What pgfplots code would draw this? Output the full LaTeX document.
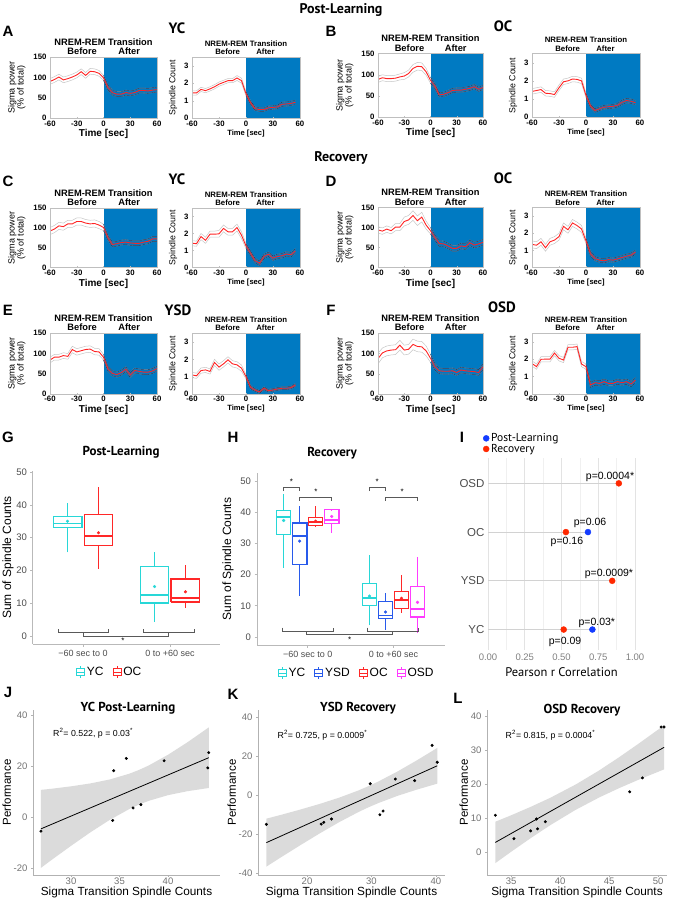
\documentclass[border=0pt]{standalone}
\usepackage{pgfplots}
\pgfplotsset{compat=1.18}
\usepackage{pgfplotstable}
\usepackage{fontspec}
\setmainfont{Liberation Sans}
\newfontfamily\hd{PT Sans}
\newcommand{\fs}[1]{\fontsize{#1}{#1}\selectfont}
\definecolor{tsblue}{RGB}{0,122,194}
\definecolor{semdark}{RGB}{20,40,80}
\definecolor{tsred}{RGB}{255,35,35}
\definecolor{gcyan}{RGB}{40,215,215}
\definecolor{gblue}{RGB}{40,90,235}
\definecolor{gred}{RGB}{255,40,40}
\definecolor{gmag}{RGB}{255,60,255}
\definecolor{dotblue}{RGB}{20,60,255}
\definecolor{dotred}{RGB}{255,40,0}

\pgfplotstableread{
t aSm aSs aPm aPs bSm bSs bPm bPs
-60 90 7 1.45 0.12 89 7 1.42 0.15
-55 95 7 1.45 0.12 93 7 1.47 0.15
-50 101 7 1.65 0.12 91 7 1.52 0.15
-45 94 7 1.58 0.12 91 7 1.32 0.15
-40 97 7 1.68 0.12 92 7 1.30 0.15
-35 101 7 1.80 0.12 95 7 1.25 0.15
-30 106 7 1.95 0.12 97 8 1.62 0.15
-25 114 7 2.05 0.12 103 8 1.95 0.15
-20 105 7 2.15 0.12 115 9 2.00 0.15
-15 115 7 2.15 0.12 120 9 2.10 0.15
-10 114 7 2.30 0.14 119 9 2.08 0.15
-5 110 7 2.15 0.14 107 8 2.00 0.15
0 99 6 1.40 0.12 87 7 1.20 0.12
5 75 6 0.90 0.10 73 6 0.62 0.10
10 63 6 0.55 0.10 53 5 0.37 0.10
15 59 6 0.50 0.10 54 5 0.47 0.10
20 59 6 0.50 0.10 58 5 0.55 0.10
25 63 6 0.60 0.10 63 5 0.58 0.10
30 61 6 0.62 0.10 64 5 0.60 0.10
35 63 6 0.65 0.10 64 5 0.66 0.10
40 68 6 0.80 0.12 66 5 0.82 0.12
45 68 6 0.82 0.12 68 5 0.92 0.12
50 67 6 0.85 0.12 72 5 0.88 0.12
55 69 6 0.92 0.12 66 5 0.80 0.12
60 70 6 0.92 0.12 70 5 0.80 0.12
}\postT

\pgfplotstableread{
t cSm cSs cPm cPs dSm dSs dPm dPs eSm eSs ePm ePs fSm fSs fPm fPs
-60 92 9 1.43 0.15 94 8 1.35 0.2 84 7 1.10 0.15 87 13 1.75 0.15
-55 97 9 1.40 0.15 91 8 1.30 0.2 91 7 1.05 0.15 101 12 1.57 0.15
-50 105 9 1.82 0.18 96 8 1.50 0.2 91 7 1.35 0.15 106 12 1.99 0.15
-45 103 9 1.60 0.18 92 8 1.15 0.2 95 7 1.39 0.15 108 12 2.00 0.15
-40 110 9 1.96 0.18 101 9 1.50 0.2 93 7 1.30 0.15 109 12 2.00 0.15
-35 110 9 1.96 0.18 101 9 1.60 0.2 110 8 1.82 0.18 120 12 2.35 0.15
-30 116 9 1.98 0.2 115 11 1.80 0.2 104 8 1.55 0.18 108 12 2.05 0.15
-25 116 9 2.30 0.2 119 11 2.40 0.2 107 8 1.74 0.18 110 12 1.95 0.15
-20 112 9 2.10 0.2 130 12 2.20 0.2 110 8 1.97 0.18 122 13 2.68 0.15
-15 110 9 2.10 0.2 117 12 2.60 0.2 111 8 1.74 0.18 117 13 2.68 0.15
-10 111 9 2.35 0.2 126 12 2.45 0.2 105 8 1.68 0.18 116 13 2.72 0.15
-5 107 9 1.90 0.2 106 10 2.25 0.2 104 8 1.49 0.18 106 12 1.72 0.15
0 101 8 1.27 0.15 92 8 1.55 0.15 91 7 1.00 0.12 88 10 1.57 0.15
5 75 6 0.84 0.13 75 7 0.80 0.15 62 6 0.39 0.1 67 8 0.52 0.15
10 58 6 0.41 0.13 60 7 0.52 0.12 51 6 0.23 0.08 57 7 0.65 0.15
15 60 6 0.25 0.13 59 7 0.43 0.12 48 6 0.12 0.08 56 7 0.61 0.15
20 63 6 0.65 0.13 54 7 0.39 0.12 53 6 0.33 0.08 56 7 0.71 0.15
25 64 6 0.78 0.13 48 7 0.46 0.12 61 6 0.19 0.08 57 7 0.61 0.15
30 62 6 0.55 0.13 48 7 0.43 0.12 47 6 0.23 0.08 53 7 0.61 0.15
35 61 6 0.65 0.13 54 7 0.50 0.12 58 6 0.29 0.08 59 7 0.71 0.15
40 61 6 0.69 0.13 52 7 0.58 0.12 56 6 0.33 0.08 57 7 0.65 0.15
45 64 6 0.80 0.13 62 7 0.66 0.12 54 6 0.33 0.08 56 7 0.71 0.15
50 66 6 0.75 0.13 56 7 0.72 0.12 54 6 0.37 0.08 55 7 0.57 0.15
55 72 6 0.98 0.13 59 7 0.90 0.12 57 6 0.52 0.08 53 7 0.80 0.15
60 72 6 0.98 0.13 63 7 0.90 0.12 63 6 0.52 0.08 67 7 0.80 0.15
}\recT

% regression fit lines
\pgfplotstableread{
x fit
26.9 -4.60
44.2 23.30
}\Jf
\pgfplotstableread{
x fit
13.7 -24.4
40.2 15.00
}\Kf
\pgfplotstableread{
x fit
33.4 2.80
50.6 30.80
}\Lf
% confidence bands (upper edge left to right, then lower edge right to left)
\pgfplotstableread{
x y
26.9 10.7
28 11.12
30 12.07
32 13.22
34 14.77
36 17.01
37 18.49
38 20.23
40 24.45
42 29.34
44.2 35.18
44.2 11.42
42 10.16
40 8.61
38 6.37
37 4.89
36 3.15
34 -1.07
32 -5.96
30 -11.27
28 -16.78
26.9 -19.9
}\Jb
\pgfplotstableread{
x y
13.7 -12.1
16 -10.12
19 -7.40
22 -4.51
25 -1.32
28 2.39
29.56 4.61
31 6.84
34 12.02
37 17.73
40.2 24.16
40.2 5.84
37 2.75
34 -0.46
31 -4.20
29.56 -6.25
28 -8.67
25 -13.88
22 -19.61
19 -25.64
16 -31.84
13.7 -36.7
}\Kb
\pgfplotstableread{
x y
33.4 8.90
35 10.78
37 13.27
39 15.94
41.59 19.86
44 24.04
46 27.86
48 31.88
50.6 37.29
50.6 24.31
48 21.26
46 18.76
44 16.06
41.59 12.40
39 7.88
37 4.05
35 0.02
33.4 -3.30
}\Lb
\pgfplotstableread{
x y
26.9 -5.5
34.3 -1.3
34.4 18.2
35.7 23.0
36.4 3.6
37.2 4.9
39.6 22.1
44.2 25.3
44.1 19.3
}\Jp
\pgfplotstableread{
x y
13.7 -15
22.2 -14.9
22.6 -14
23.8 -12.3
29.8 5.8
31.3 -10.1
31.8 -8.2
33.7 8.2
36.7 7.4
39.4 25.5
40.2 16.8
}\Kp
\pgfplotstableread{
x y
33.4 10.8
35.3 3.9
37.0 6.2
37.6 9.7
37.7 6.8
38.5 8.9
47.1 17.7
48.4 21.8
50.3 36.8
50.6 36.8
}\Lp

\tikzset{tt/.style={anchor=base, inner sep=0pt}}
\pgfplotsset{
  every axis/.append style={/pgf/number format/assume math mode=true},
  ts/.style={scale only axis, anchor=north west, axis on top, clip mode=individual,
    xmin=-60, xmax=60, xtick={-60,-30,0,30,60}, tick pos=left, tick align=inside,
    major tick length=1.5pt, axis line style={gray!50, line width=0.5pt}, tick style={gray!50},
    ticklabel style={font=\bfseries\fs{7.8}}, xticklabel style={yshift=1pt},
    xlabel={Time [sec]}, xlabel style={yshift=3.5pt}, ylabel style={align=center}},
  semg/.style={gray!45, line width=0.5pt, mark=none},
  semd/.style={semdark, line width=0.45pt, mark=none},
  tsr/.style={tsred, line width=0.9pt, mark=none},
  bxax/.style={scale only axis, anchor=north west, axis x line*=bottom, axis y line*=left,
    axis line style={gray!55, line width=1pt}, tick style={gray!55, line width=0.6pt},
    major tick length=2.5pt, tick align=outside, xtick={1,2},
    xticklabels={−60 sec to 0, 0 to +60 sec}, ytick={0,10,20,30,40,50},
    ticklabel style={text=black!70}, xticklabel style={font=\fs{9}}, yticklabel style={font=\fs{9.5}},
    ylabel style={font=\fs{12}}, clip mode=individual,
    legend columns=-1,
    legend style={draw=none, fill=none, font=\fs{12}, /tikz/every even column/.append style={column sep=7pt}},
    legend image code/.code={\draw[#1, line width=0.9pt] (0pt,-3.5pt) rectangle (8pt,3.5pt);
      \draw[#1, line width=0.9pt] (0pt,0pt) -- (8pt,0pt) (4pt,3.5pt) -- (4pt,6pt) (4pt,-3.5pt) -- (4pt,-6pt);}},
  brk/.style={black!65, line width=0.7pt, forget plot, mark=none},
  sc/.style={scale only axis, anchor=north west, axis x line*=bottom, axis y line*=left,
    axis line style={gray!60, line width=0.9pt}, tick style={gray!60}, major tick length=2pt,
    tick align=outside, ticklabel style={font=\fs{9.5}, text=black!55}, xticklabel style={yshift=3pt},
    xlabel={Sigma Transition Spindle Counts}, ylabel={Performance},
    xlabel style={font=\fs{11.8}, yshift=4pt}, ylabel style={font=\fs{11.5}}, ylabel shift=-4pt,
    clip mode=individual},
}

\newcommand{\sigpanel}[6]{%
\begin{axis}[ts, at={(#1pt,-#2pt)}, width=#3pt, height=#4pt, ymin=0, ymax=150, ytick={0,50,100,150},
  ylabel={Sigma power\\(\% of total)}, ylabel style={font=\fs{9}, yshift=1pt},
  xlabel style={font=\bfseries\fs{10}}]
\addplot[fill=tsblue, draw=none] coordinates {(0,0) (0,150) (60,150) (60,0)} -- cycle;
\addplot[semg] table[x=t, y expr=\thisrow{#6m}+\thisrow{#6s}] {#5};
\addplot[semg] table[x=t, y expr=\thisrow{#6m}-\thisrow{#6s}] {#5};
\addplot[semd, restrict x to domain=0:60] table[x=t, y expr=\thisrow{#6m}+\thisrow{#6s}] {#5};
\addplot[semd, restrict x to domain=0:60] table[x=t, y expr=\thisrow{#6m}-\thisrow{#6s}] {#5};
\addplot[tsr] table[x=t, y=#6m] {#5};
\node[tt, font=\bfseries\fs{9.3}] at ([yshift=12pt]rel axis cs:0.5,1) {NREM-REM Transition};
\node[tt, font=\bfseries\fs{9.3}] at ([yshift=2.5pt]rel axis cs:0.30,1) {Before};
\node[tt, font=\bfseries\fs{9.3}] at ([yshift=2.5pt]rel axis cs:0.74,1) {After};
\end{axis}}

\newcommand{\spipanel}[6]{%
\begin{axis}[ts, at={(#1pt,-#2pt)}, width=#3pt, height=#4pt, ymin=0, ymax=3.5, ytick={0,1,2,3},
  ylabel={Spindle Count}, ylabel style={font=\fs{8.8}},
  xlabel style={font=\bfseries\fs{7.6}}]
\addplot[fill=tsblue, draw=none] coordinates {(0,0) (0,3.5) (60,3.5) (60,0)} -- cycle;
\addplot[semg, restrict x to domain=-60:56] table[x=t, y expr=\thisrow{#6m}+\thisrow{#6s}] {#5};
\addplot[semg, restrict x to domain=-60:56] table[x=t, y expr=\thisrow{#6m}-\thisrow{#6s}] {#5};
\addplot[semd, restrict x to domain=0:56] table[x=t, y expr=\thisrow{#6m}+\thisrow{#6s}] {#5};
\addplot[semd, restrict x to domain=0:56] table[x=t, y expr=\thisrow{#6m}-\thisrow{#6s}] {#5};
\addplot[tsr, restrict x to domain=-60:56] table[x=t, y=#6m] {#5};
\node[tt, font=\bfseries\fs{7.8}] at ([yshift=11pt]rel axis cs:0.5,1) {NREM-REM Transition};
\node[tt, font=\bfseries\fs{7.8}] at ([yshift=2.5pt]rel axis cs:0.33,1) {Before};
\node[tt, font=\bfseries\fs{7.8}] at ([yshift=2.5pt]rel axis cs:0.68,1) {After};
\end{axis}}

% box: #1 color #2 pos #3 half width #4 mean #5 lower whisker #6 Q1 #7 median #8 Q3 #9 upper whisker
\newcommand{\bx}[9]{%
\pgfmathsetmacro{\xl}{#2-#3}\pgfmathsetmacro{\xr}{#2+#3}%
\addplot[#1, line width=1.1pt, forget plot, mark=none] coordinates {(\xl,#6) (\xr,#6) (\xr,#8) (\xl,#8) (\xl,#6)};
\addplot[#1, line width=1.9pt, forget plot, mark=none] coordinates {(\xl,#7) (\xr,#7)};
\addplot[#1, line width=1.1pt, forget plot, mark=none] coordinates {(#2,#8) (#2,#9)};
\addplot[#1, line width=1.1pt, forget plot, mark=none] coordinates {(#2,#5) (#2,#6)};
\addplot[#1, only marks, mark=*, mark size=1.4pt, forget plot] coordinates {(#2,#4)};}

\begin{document}
\begin{tikzpicture}
\path[use as bounding box] (0,0) rectangle (682pt,-900pt);

% headings
\node[font=\hd\bfseries\fs{14}] at (341pt,-10pt) {Post-Learning};
\node[font=\hd\bfseries\fs{14}] at (341pt,-158pt) {Recovery};
\foreach \l/\x/\y in {A/8/31,B/331/31,C/8/181,D/331/181,E/8/310,F/331/310,G/8/437,H/233/437,I/462/437,J/8/692,K/233/694,L/458/698}
  \node[font=\bfseries\fs{15}] at (\x pt,-\y pt) {\l};
\node[font=\hd\bfseries\fs{15}] at (177pt,-28pt) {YC};
\node[font=\hd\bfseries\fs{15}] at (503pt,-26pt) {OC};
\node[font=\hd\bfseries\fs{15}] at (177pt,-179pt) {YC};
\node[font=\hd\bfseries\fs{15}] at (503pt,-178pt) {OC};
\node[font=\hd\bfseries\fs{15}] at (178pt,-310pt) {YSD};
\node[font=\hd\bfseries\fs{15}] at (502pt,-307pt) {OSD};

% time-series panels
\sigpanel{50}{57}{107}{61.3}{\postT}{aS}
\spipanel{192}{57}{108}{61.3}{\postT}{aP}
\sigpanel{378}{53.5}{105}{63.8}{\postT}{bS}
\spipanel{532}{53.5}{108}{63.8}{\postT}{bP}
\sigpanel{50}{208}{107}{59.5}{\recT}{cS}
\spipanel{192}{208}{108}{59.5}{\recT}{cP}
\sigpanel{378}{207.5}{105}{60}{\recT}{dS}
\spipanel{532}{207.5}{108}{60}{\recT}{dP}
\sigpanel{50}{333.3}{107}{60.7}{\recT}{eS}
\spipanel{192}{333.3}{108}{60.7}{\recT}{eP}
\sigpanel{378}{333}{105}{61}{\recT}{fS}
\spipanel{532}{333}{108}{61}{\recT}{fP}

% G
\node[font=\hd\bfseries\fs{13}] at (121pt,-452pt) {Post-Learning};
\begin{axis}[bxax, at={(33pt,-471pt)}, width=187pt, height=173pt, xmin=0.425, xmax=2.575, ymin=-2.4, ymax=50.3,
  ylabel={Sum of Spindle Counts}, ylabel shift=-4pt,
  legend style={at={(axis description cs:0.41,0)}, anchor=north, yshift=-19pt}]
\bx{gcyan}{0.822}{0.166}{35}{25.5}{33}{34.3}{36.5}{40.5}
\bx{gred}{1.178}{0.166}{31.5}{20.5}{27.5}{30.5}{37}{45.5}
\bx{gcyan}{1.822}{0.166}{15.1}{4.3}{10.1}{12.4}{21.3}{25.7}
\bx{gred}{2.178}{0.166}{13.5}{8.7}{10.4}{11.7}{17.4}{21.8}
\addplot[brk] coordinates {(0.713,2.1) (0.713,1.06) (1.287,1.06) (1.287,2.1)};
\addplot[brk] coordinates {(1.69,2.1) (1.69,1.06) (2.276,1.06) (2.276,2.1)};
\addplot[brk] coordinates {(1.0,1.06) (1.0,0) (1.977,0) (1.977,1.06)};
\node[font=\fs{8}] at (axis cs:1.46,-1.3) {*};
\addlegendimage{gcyan}\addlegendentry{YC}
\addlegendimage{gred}\addlegendentry{OC}
\end{axis}

% H
\node[font=\hd\bfseries\fs{13}] at (332pt,-453pt) {Recovery};
\begin{axis}[bxax, at={(257pt,-473pt)}, width=188pt, height=172pt, xmin=0.41, xmax=2.6, ymin=-2.55, ymax=52.5,
  ylabel={Sum of Spindle Counts},
  legend style={at={(axis description cs:0.53,0)}, anchor=north, yshift=-19pt}]
\bx{gcyan}{0.72}{0.085}{37.3}{22.2}{32.9}{38.4}{40.5}{45.9}
\bx{gblue}{0.907}{0.085}{30.7}{13.1}{23.3}{32.3}{36.5}{42.1}
\bx{gred}{1.093}{0.085}{37.1}{35.2}{35.7}{36.8}{38.4}{41.9}
\bx{gmag}{1.28}{0.085}{38.6}{33.3}{36.3}{37.6}{40.7}{40.8}
\bx{gcyan}{1.72}{0.085}{13.1}{3.7}{10.1}{12.4}{17}{26.4}
\bx{gblue}{1.907}{0.085}{8.0}{2.3}{5.9}{6.9}{11.5}{14.1}
\bx{gred}{2.093}{0.085}{12.4}{7.7}{9.0}{11.9}{14.6}{20}
\bx{gmag}{2.28}{0.085}{11.1}{1.3}{6.4}{9.0}{16.3}{25.5}
\addplot[brk] coordinates {(0.70,3.0) (0.70,1.9) (1.294,1.9) (1.294,3.0)};
\addplot[brk] coordinates {(1.70,3.0) (1.70,1.9) (2.294,1.9) (2.294,3.0)};
\addplot[brk] coordinates {(0.99,1.9) (0.99,0.85) (1.99,0.85) (1.99,1.9)};
\node[font=\fs{8}] at (axis cs:1.49,-0.8) {*};
\addplot[brk] coordinates {(0.72,46.7) (0.72,47.8) (0.907,47.8) (0.907,46.7)};
\addplot[brk] coordinates {(0.907,43.7) (0.907,44.8) (1.28,44.8) (1.28,43.7)};
\addplot[brk] coordinates {(1.72,46.7) (1.72,47.8) (1.907,47.8) (1.907,46.7)};
\addplot[brk] coordinates {(1.907,43.7) (1.907,44.8) (2.28,44.8) (2.28,43.7)};
\node[font=\fs{8}] at (axis cs:0.81,49.6) {*};
\node[font=\fs{8}] at (axis cs:1.097,46.6) {*};
\node[font=\fs{8}] at (axis cs:1.81,49.6) {*};
\node[font=\fs{8}] at (axis cs:2.10,46.6) {*};
\addlegendimage{gcyan}\addlegendentry{YC}
\addlegendimage{gblue}\addlegendentry{YSD}
\addlegendimage{gred}\addlegendentry{OC}
\addlegendimage{gmag}\addlegendentry{OSD}
\end{axis}

% I
\begin{axis}[scale only axis, anchor=north west, at={(488pt,-458pt)}, width=147pt, height=192pt,
  xmin=0, xmax=1, ymin=0.58, ymax=4.52, axis line style={draw=none}, major tick length=0pt, minor tick length=0pt,
  xtick={0,0.25,0.5,0.75,1}, xticklabels={0.00,0.25,0.50,0.75,1.00},
  minor xtick={0.125,0.375,0.625,0.875}, xmajorgrids, xminorgrids,
  major grid style={gray!22, line width=0.6pt}, minor grid style={gray!12, line width=0.5pt},
  ytick={1,2,3,4}, yticklabels={YC,YSD,OC,OSD},
  yticklabel style={font=\fs{11.5}, text=black!70}, xticklabel style={font=\fs{9.5}, text=black!50},
  xlabel={Pearson r Correlation}, xlabel style={font=\hd\fs{12.5}},
  clip=false, legend cell align=left,
  legend style={at={(axis description cs:0,1)}, anchor=south west, xshift=-5pt, yshift=2pt, draw=none, fill=none,
    inner sep=0pt, row sep=-3pt, font=\hd\fs{11.5}}]
\addplot[gray!35, line width=0.8pt, forget plot] coordinates {(0,4) (0.89,4)};
\addplot[gray!35, line width=0.8pt, forget plot] coordinates {(0,3) (0.68,3)};
\addplot[gray!35, line width=0.8pt, forget plot] coordinates {(0,2) (0.845,2)};
\addplot[gray!35, line width=0.8pt, forget plot] coordinates {(0,1) (0.71,1)};
\addplot[only marks, mark=*, mark size=3pt, dotblue] coordinates {(0.68,3) (0.71,1)};
\addlegendentry{Post-Learning}
\addplot[only marks, mark=*, mark size=3pt, dotred] coordinates {(0.89,4) (0.53,3) (0.845,2) (0.515,1)};
\addlegendentry{Recovery}
\node[font=\fs{10.5}] at ([yshift=6pt]axis cs:0.83,4) {p=0.0004*};
\node[font=\fs{10.5}] at ([yshift=9pt]axis cs:0.694,3) {p=0.06};
\node[font=\fs{10.5}] at ([yshift=-10pt]axis cs:0.537,3) {p=0.16};
\node[font=\fs{10.5}] at ([yshift=7pt]axis cs:0.823,2) {p=0.0009*};
\node[font=\fs{10.5}] at ([yshift=7pt]axis cs:0.74,1) {p=0.03*};
\node[font=\fs{10.5}] at ([yshift=-12pt]axis cs:0.524,1) {p=0.09};
\end{axis}

% J
\node[font=\hd\bfseries\fs{13}] at (128pt,-708pt) {YC Post-Learning};
\begin{axis}[sc, at={(33pt,-710pt)}, width=187pt, height=165pt, xmin=26.08, xmax=45.36, ymin=-22.7, ymax=42,
  xtick={30,35,40}, ytick={-20,0,20,40}]
\addplot[fill=gray!28, draw=none] table[x=x,y=y] {\Jb} -- cycle;
\addplot[black, line width=0.8pt] table[x=x,y=fit] {\Jf};
\addplot[only marks, mark=*, mark size=1.3pt, black] table[x=x,y=y] {\Jp};
\node[anchor=west, font=\fs{8.8}] at (axis cs:27.8,33) {R\textsuperscript{2}= 0.522, p = 0.03\textsuperscript{*}};
\end{axis}

% K
\node[font=\hd\bfseries\fs{13}] at (358pt,-708pt) {YSD Recovery};
\begin{axis}[sc, at={(258pt,-710pt)}, width=187pt, height=165pt, xmin=12.4, xmax=41.4, ymin=-41, ymax=43.6,
  xtick={20,30,40}, ytick={-40,-20,0,20,40}]
\addplot[fill=gray!28, draw=none] table[x=x,y=y] {\Kb} -- cycle;
\addplot[black, line width=0.8pt] table[x=x,y=fit] {\Kf};
\addplot[only marks, mark=*, mark size=1.3pt, black] table[x=x,y=y] {\Kp};
\node[anchor=west, font=\fs{8.8}] at (axis cs:14.9,30.8) {R\textsuperscript{2}= 0.725, p = 0.0009\textsuperscript{*}};
\end{axis}

% L
\node[font=\hd\bfseries\fs{13}] at (582pt,-710pt) {OSD Recovery};
\begin{axis}[sc, at={(487pt,-710pt)}, width=180pt, height=165pt, xmin=32.55, xmax=50.9, ymin=-6.8, ymax=41.8,
  xtick={35,40,45,50}, ytick={0,10,20,30,40}]
\addplot[fill=gray!28, draw=none] table[x=x,y=y] {\Lb} -- cycle;
\addplot[black, line width=0.8pt] table[x=x,y=fit] {\Lf};
\addplot[only marks, mark=*, mark size=1.3pt, black] table[x=x,y=y] {\Lp};
\node[anchor=west, font=\fs{8.8}] at (axis cs:34.1,34.4) {R\textsuperscript{2}= 0.815, p = 0.0004\textsuperscript{*}};
\end{axis}

\end{tikzpicture}
\end{document}
